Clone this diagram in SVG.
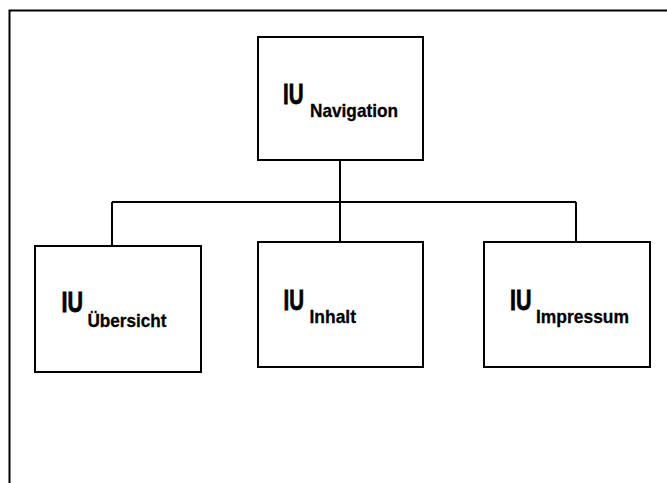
<svg xmlns="http://www.w3.org/2000/svg" width="667" height="483" viewBox="0 0 667 483">
<style>
.box{fill:#fff;stroke:#000;stroke-width:2}
.ln{fill:none;stroke:#000;stroke-width:2}
.big{font-family:"Liberation Sans",Arial,sans-serif;font-weight:bold;font-size:30px;fill:#000;stroke:#000;stroke-width:0.8}
.sub{font-family:"Liberation Sans",Arial,sans-serif;font-weight:bold;font-size:19px;fill:#000;stroke:#000;stroke-width:0.3}
</style>
<rect x="0" y="0" width="667" height="483" fill="#fff"/>
<path class="ln" d="M9.5,483 V10.5 H667"/>
<g id="connectors">
<path class="ln" d="M340,160 V202 M112,202 H576 M112,202 V246 M340,202 V242 M576,202 V242"/>
</g>
<g id="nav">
<rect class="box" x="258" y="37" width="165" height="123"/>
<text class="big" x="283" y="104" textLength="20.5" lengthAdjust="spacingAndGlyphs">IU</text>
<text class="sub" x="310" y="117" textLength="88" lengthAdjust="spacingAndGlyphs">Navigation</text>
</g>
<g id="uebersicht">
<rect class="box" x="35" y="246" width="166" height="126"/>
<text class="big" x="61.5" y="312" textLength="21.5" lengthAdjust="spacingAndGlyphs">IU</text>
<text class="sub" x="87.5" y="326.5" textLength="79" lengthAdjust="spacingAndGlyphs">Übersicht</text>
</g>
<g id="inhalt">
<rect class="box" x="258" y="242" width="165" height="125"/>
<text class="big" x="283.5" y="309.5" textLength="20.5" lengthAdjust="spacingAndGlyphs">IU</text>
<text class="sub" x="309.5" y="322.5" textLength="46.5" lengthAdjust="spacingAndGlyphs">Inhalt</text>
</g>
<g id="impressum">
<rect class="box" x="484" y="242" width="166" height="125"/>
<text class="big" x="510" y="309.5" textLength="21.5" lengthAdjust="spacingAndGlyphs">IU</text>
<text class="sub" x="536" y="322.5" textLength="93" lengthAdjust="spacingAndGlyphs">Impressum</text>
</g>
</svg>
